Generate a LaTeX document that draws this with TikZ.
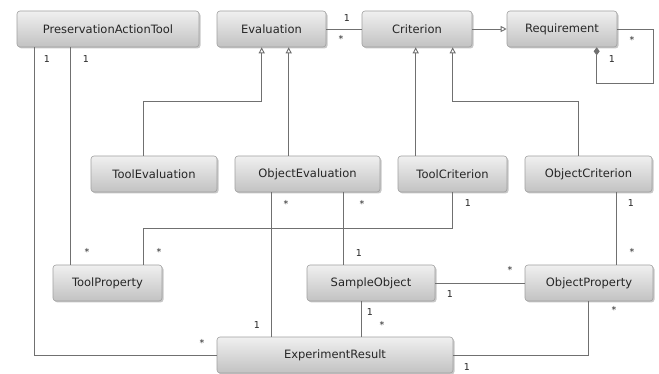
\documentclass[tikz,border=0pt]{standalone}
\usepackage{fontspec}
\setmainfont{DejaVu Sans}
\usetikzlibrary{arrows.meta,shadows,calc}
\definecolor{lineG}{HTML}{707070}
\definecolor{boxB}{HTML}{A0A0A0}
\definecolor{boxT}{HTML}{F0F0F0}
\definecolor{boxBot}{HTML}{C2C2C2}
\definecolor{txt}{HTML}{262626}
\tikzset{
  cls/.style={draw=boxB, line width=0.6pt, rounded corners=3pt, top color=boxT, bottom color=boxBot,
    drop shadow={shadow xshift=1.5pt, shadow yshift=-1.5pt, fill=black, opacity=0.22},
    font=\fontsize{11.5}{13}\selectfont, text=txt, inner sep=0pt, minimum height=36pt},
  conn/.style={draw=lineG, line width=0.9pt},
  gen/.style={conn, -{Triangle[open, length=6pt, width=6pt]}},
  mult/.style={font=\fontsize{9.5}{11}\selectfont, text=txt, inner sep=0pt},
  many/.style={mult, yshift=-1.8pt}
}
\begin{document}
\begin{tikzpicture}[x=1pt,y=-1pt]
\useasboundingbox (0,0) rectangle (659,374);
% classes
\node[cls, minimum width=182pt] (pat) at (108,29) {PreservationActionTool};
\node[cls, minimum width=109pt] (eval) at (271.5,29) {Evaluation};
\node[cls, minimum width=110pt] (crit) at (417,29) {Criterion};
\node[cls, minimum width=110pt] (req) at (562,29) {Requirement};
\node[cls, minimum width=126pt] (teval) at (154,174) {ToolEvaluation};
\node[cls, minimum width=145pt] (oeval) at (307.5,174) {ObjectEvaluation};
\node[cls, minimum width=109pt] (tcrit) at (452.5,174) {ToolCriterion};
\node[cls, minimum width=127pt] (ocrit) at (588.5,174) {ObjectCriterion};
\node[cls, minimum width=109pt] (tprop) at (107.5,283) {ToolProperty};
\node[cls, minimum width=128pt] (sobj) at (371,283) {SampleObject};
\node[cls, minimum width=128pt] (oprop) at (589,283) {ObjectProperty};
\node[cls, minimum width=236pt] (expr) at (335,355) {ExperimentResult};
% connectors
\draw[conn] (eval) -- (crit);
\draw[gen] (crit) -- (req);
\draw[conn, {Diamond[length=8pt, width=6pt]}-] ($(req.south west)+(90,0)$) -- ++(0,36) -| ($(req.east)+(36,0)$) -- (req.east);
\draw[gen] ($(teval.north west)+(53,0)$) -- ++(0,-54) -| ($(eval.south west)+(45,0)$);
\draw[gen] ($(oeval.north west)+(54,0)$) -- ($(eval.south west)+(72,0)$);
\draw[gen] ($(tcrit.north west)+(18,0)$) -- ($(crit.south west)+(54,0)$);
\draw[gen] ($(ocrit.north west)+(54,0)$) -- ++(0,-54) -| ($(crit.south west)+(91,0)$);
\draw[conn] ($(pat.south west)+(18,0)$) |- (expr.west);
\draw[conn] ($(pat.south west)+(54,0)$) -- ($(tprop.north west)+(18,0)$);
\draw[conn] ($(tprop.north west)+(91,0)$) -- ++(0,-36) -| ($(tcrit.south west)+(55,0)$);
\draw[conn] ($(oeval.south west)+(37,0)$) -- ($(expr.north west)+(55,0)$);
\draw[conn] ($(oeval.south west)+(109,0)$) -- ($(sobj.north west)+(37,0)$);
\draw[conn] (sobj.east) -- (oprop.west);
\draw[conn] ($(sobj.south west)+(55,0)$) -- ($(expr.north west)+(145,0)$);
\draw[conn] (expr.east) -| ($(oprop.south west)+(64,0)$);
\draw[conn] ($(ocrit.south west)+(92,0)$) -- ($(oprop.north west)+(92,0)$);
% multiplicities
\node[mult] (m1) at (347,18) {1};
\node[many] (m2) at (341,37) {*};
\node[many] (m3) at (632,38) {*};
\node[mult] (m4) at (612,59) {1};
\node[mult] (m5) at (47,59) {1};
\node[many] (m6) at (202,341) {*};
\node[mult] (m7) at (86,59) {1};
\node[many] (m8) at (87,250) {*};
\node[many] (m9) at (159,250) {*};
\node[mult] (m10) at (468,203) {1};
\node[many] (m11) at (286,202) {*};
\node[mult] (m12) at (257,325) {1};
\node[many] (m13) at (362,202) {*};
\node[mult] (m14) at (359,253) {1};
\node[mult] (m15) at (450,294) {1};
\node[many] (m16) at (510,268) {*};
\node[mult] (m17) at (370,312) {1};
\node[many] (m18) at (382,323) {*};
\node[mult] (m19) at (467,367) {1};
\node[many] (m20) at (614,308) {*};
\node[mult] (m21) at (631,203) {1};
\node[many] (m22) at (632,250) {*};
\end{tikzpicture}
\end{document}
